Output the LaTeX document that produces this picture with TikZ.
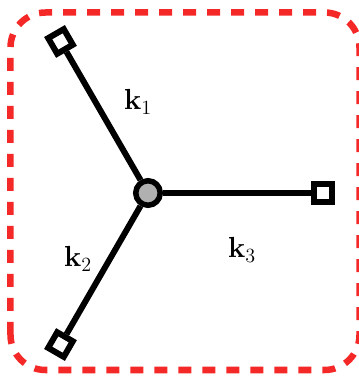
\documentclass[tikz,border=0pt]{standalone}
\usepackage{xcolor}
\usepackage{tikz}
\usetikzlibrary{calc}
\definecolor{ro}{RGB}{245,40,40}
\definecolor{gs}{RGB}{176,176,176}

\begin{document}
\begin{tikzpicture}[x=1pt,y=1pt,
  hub/.style={circle,draw,line width=5.5pt,fill=gs,minimum size=24.5pt,inner sep=0pt},
  port/.style={rectangle,draw,line width=6pt,fill=white,minimum size=18pt,inner sep=0pt},
  edge/.style={line width=6pt},
  lab/.style={font=\huge,scale=1.4,transform shape}]
  \useasboundingbox (0,0) rectangle (359,376);
  \draw[ro,line width=6.5pt,dash pattern=on 13pt off 11pt,rounded corners=35pt] (10.5,6) rectangle (359.5,363.5);

  % star
  \node[hub] (c) at (148,183) {};
  \node[port,rotate=30] (p1) at ($(c)+(120:175)$) {};
  \node[port,rotate=-30] (p2) at ($(c)+(240:175)$) {};
  \node[port] (p3) at ($(c)+(0:175)$) {};
  \draw[edge] (c) -- (p1);
  \draw[edge] (c) -- (p2);
  \draw[edge] (c) -- (p3);

  % labels
  \node[lab] (k1) at (138,274) {$\mathbf{k}_1$};
  \node[lab] (k2) at (78,117) {$\mathbf{k}_2$};
  \node[lab] (k3) at (242,126) {$\mathbf{k}_3$};
\end{tikzpicture}
\end{document}
